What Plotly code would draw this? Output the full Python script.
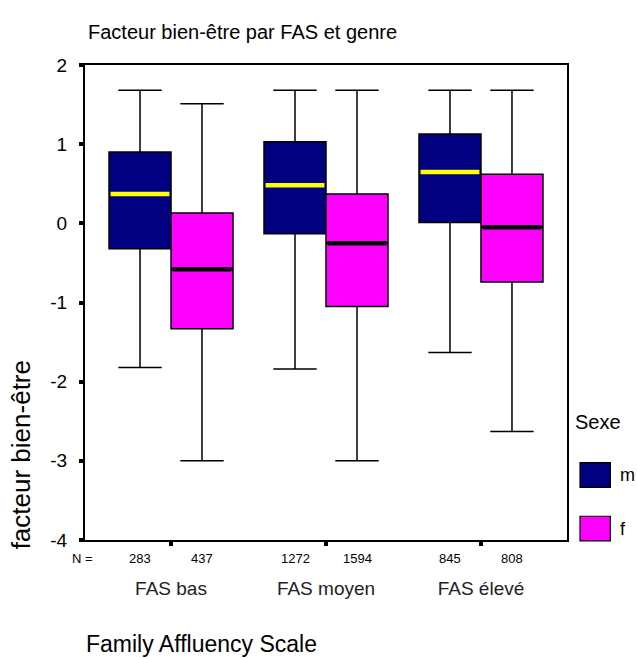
import plotly.graph_objects as go

categories = ["FAS bas", "FAS moyen", "FAS élevé"]
sexes = ["m", "f"]
n_m = [283, 1272, 845]
n_f = [437, 1594, 808]

# box statistics
m_upper = [1.68, 1.68, 1.68]
m_q3 = [0.90, 1.03, 1.13]
m_median = [0.37, 0.48, 0.65]
m_q1 = [-0.32, -0.13, 0.01]
m_lower = [-1.82, -1.84, -1.63]

f_upper = [1.51, 1.68, 1.68]
f_q3 = [0.13, 0.37, 0.62]
f_median = [-0.58, -0.25, -0.05]
f_q1 = [-1.33, -1.05, -0.74]
f_lower = [-3.0, -3.0, -2.63]

y_ticks = [-4, -3, -2, -1, 0, 1, 2]
y_ticktext = ["-4", "-3", "-2", "-1", "0", "1", "2"]

FONT = "Liberation Sans, Arial, sans-serif"
NAVY = "#000080"
MAGENTA = "#FF00FF"
YELLOW = "#FFFF00"

offset = 0.2
bw = 0.4
pos = list(range(len(categories)))
xm = [p - offset for p in pos]
xf = [p + offset for p in pos]

fig = go.Figure()
for name, xs, lo, q1, med, q3, up, col in [
    ("m", xm, m_lower, m_q1, m_median, m_q3, m_upper, NAVY),
    ("f", xf, f_lower, f_q1, f_median, f_q3, f_upper, MAGENTA),
]:
    fig.add_trace(go.Box(
        name=name, x=xs, q1=q1, median=med, q3=q3,
        lowerfence=lo, upperfence=up, width=bw, whiskerwidth=0.7,
        fillcolor=col, line=dict(color="black", width=1.5),
        boxpoints=False, showlegend=False, hoverinfo="skip",
    ))

# median lines
for xs, med, col in [(xm, m_median, YELLOW), (xf, f_median, "black")]:
    lx, ly = [], []
    for x, v in zip(xs, med):
        lx += [x - bw / 2 + 0.01, x + bw / 2 - 0.01, None]
        ly += [v, v, None]
    fig.add_trace(go.Scatter(x=lx, y=ly, mode="lines",
                             line=dict(color=col, width=4.5),
                             showlegend=False, hoverinfo="skip"))

annotations = []
# N labels
annotations.append(dict(x=-0.005, y=-0.038, xref="paper", yref="paper", text="N =",
                        showarrow=False, xanchor="center", yanchor="middle",
                        font=dict(size=13, family=FONT, color="black")))
for xs, ns in [(xm, n_m), (xf, n_f)]:
    for x, n in zip(xs, ns):
        annotations.append(dict(x=x, y=-0.038, xref="x", yref="paper", text=str(n),
                                showarrow=False, xanchor="center", yanchor="middle",
                                font=dict(size=13, family=FONT, color="black")))

# y-axis title
annotations.append(dict(x=-0.132, y=0.179, xref="paper", yref="paper",
                        text="facteur bien-être", textangle=-90, showarrow=False,
                        xanchor="center", yanchor="middle",
                        font=dict(size=26, family=FONT, color="black")))
# x-axis title
annotations.append(dict(x=-0.002, y=-0.219, xref="paper", yref="paper",
                        text="Family Affluency Scale", showarrow=False,
                        xanchor="left", yanchor="middle",
                        font=dict(size=23, family=FONT, color="black")))
# legend title
annotations.append(dict(x=1.012, y=0.248, xref="paper", yref="paper",
                        text="Sexe", showarrow=False, xanchor="left", yanchor="middle",
                        font=dict(size=20, family=FONT, color="black")))

shapes = []
for i, (s, col) in enumerate(zip(sexes, [NAVY, MAGENTA])):
    y0 = 0.111 - i * 0.113
    shapes.append(dict(type="rect", xref="paper", yref="paper",
                       x0=1.027, x1=1.09, y0=y0, y1=y0 + 0.052,
                       fillcolor=col, line=dict(color="black", width=1.2)))
    annotations.append(dict(x=1.105, y=y0 + 0.026, xref="paper", yref="paper",
                            text=s, showarrow=False, xanchor="left", yanchor="middle",
                            font=dict(size=18, family=FONT, color="black")))

fig.update_layout(
    width=637, height=659,
    margin=dict(l=85, r=70, t=65, b=119),
    paper_bgcolor="white", plot_bgcolor="white",
    title=dict(text="Facteur bien-être par FAS et genre", x=88 / 637, xanchor="left",
               y=1 - 32 / 659, yanchor="middle",
               font=dict(size=20, family=FONT, color="black")),
    font=dict(family=FONT, color="black"),
    xaxis=dict(range=[-0.555, 2.555], tickvals=pos, ticktext=categories,
               showgrid=False, zeroline=False, showline=True, mirror=True,
               linecolor="black", linewidth=2, ticks="outside", ticklen=4,
               tickwidth=4, tickcolor="black", ticklabelstandoff=26,
               tickfont=dict(size=19, family=FONT, color="#222")),
    yaxis=dict(range=[-4, 2], tickvals=y_ticks, ticktext=y_ticktext,
               showgrid=False, zeroline=False,
               showline=True, mirror=True, linecolor="black", linewidth=2,
               ticks="outside", ticklen=4, tickwidth=4, tickcolor="black",
               ticklabelstandoff=8,
               tickfont=dict(size=19, family=FONT, color="black")),
    annotations=annotations, shapes=shapes,
)

fig.write_html("out.html")
